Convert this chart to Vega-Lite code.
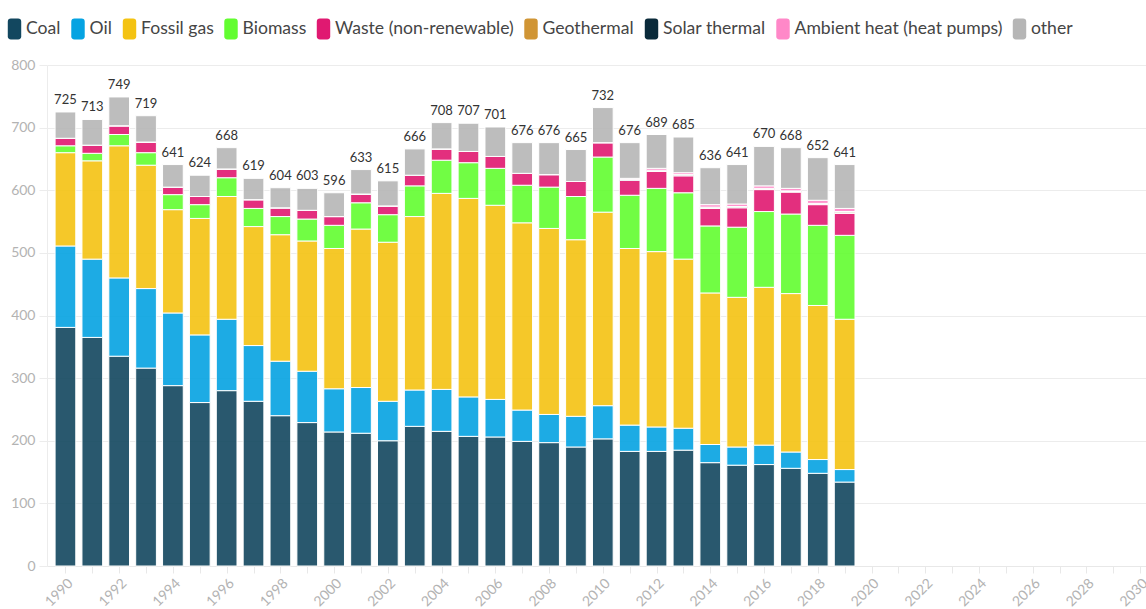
{
  "$schema": "https://vega.github.io/schema/vega-lite/v6.json",
  "autosize": {"type": "none"},
  "padding": {"left": 47, "top": 65, "right": 0, "bottom": 43},
  "width": 1099,
  "height": 501,
  "background": "white",
  "config": {
    "font": "Lato",
    "view": {"stroke": null}
  },
  "data": {
    "values": [
      {"Year": 1990, "Coal": 381, "Oil": 130, "Fossil gas": 149, "Biomass": 11, "Waste (non-renewable)": 12, "Geothermal": 0, "Solar thermal": 0, "Ambient heat (heat pumps)": 0, "other": 42},
      {"Year": 1991, "Coal": 365, "Oil": 125, "Fossil gas": 157, "Biomass": 12, "Waste (non-renewable)": 13, "Geothermal": 0, "Solar thermal": 0, "Ambient heat (heat pumps)": 0, "other": 41},
      {"Year": 1992, "Coal": 335, "Oil": 125, "Fossil gas": 211, "Biomass": 18, "Waste (non-renewable)": 14, "Geothermal": 0, "Solar thermal": 0, "Ambient heat (heat pumps)": 0, "other": 46},
      {"Year": 1993, "Coal": 316, "Oil": 127, "Fossil gas": 197, "Biomass": 20, "Waste (non-renewable)": 17, "Geothermal": 0, "Solar thermal": 0, "Ambient heat (heat pumps)": 0, "other": 42},
      {"Year": 1994, "Coal": 288, "Oil": 116, "Fossil gas": 165, "Biomass": 24, "Waste (non-renewable)": 12, "Geothermal": 0, "Solar thermal": 0, "Ambient heat (heat pumps)": 0, "other": 36},
      {"Year": 1995, "Coal": 261, "Oil": 108, "Fossil gas": 186, "Biomass": 22, "Waste (non-renewable)": 13, "Geothermal": 0, "Solar thermal": 0, "Ambient heat (heat pumps)": 0, "other": 34},
      {"Year": 1996, "Coal": 280, "Oil": 114, "Fossil gas": 196, "Biomass": 30, "Waste (non-renewable)": 14, "Geothermal": 0, "Solar thermal": 0, "Ambient heat (heat pumps)": 0, "other": 34},
      {"Year": 1997, "Coal": 263, "Oil": 89, "Fossil gas": 190, "Biomass": 29, "Waste (non-renewable)": 14, "Geothermal": 0, "Solar thermal": 0, "Ambient heat (heat pumps)": 0, "other": 34},
      {"Year": 1998, "Coal": 240, "Oil": 87, "Fossil gas": 202, "Biomass": 29, "Waste (non-renewable)": 14, "Geothermal": 0, "Solar thermal": 0, "Ambient heat (heat pumps)": 0, "other": 32},
      {"Year": 1999, "Coal": 229, "Oil": 82, "Fossil gas": 208, "Biomass": 35, "Waste (non-renewable)": 14, "Geothermal": 0, "Solar thermal": 0, "Ambient heat (heat pumps)": 0, "other": 35},
      {"Year": 2000, "Coal": 214, "Oil": 69, "Fossil gas": 224, "Biomass": 37, "Waste (non-renewable)": 14, "Geothermal": 0, "Solar thermal": 0, "Ambient heat (heat pumps)": 0, "other": 38},
      {"Year": 2001, "Coal": 212, "Oil": 73, "Fossil gas": 253, "Biomass": 42, "Waste (non-renewable)": 14, "Geothermal": 0, "Solar thermal": 0, "Ambient heat (heat pumps)": 0, "other": 39},
      {"Year": 2002, "Coal": 200, "Oil": 63, "Fossil gas": 254, "Biomass": 44, "Waste (non-renewable)": 14, "Geothermal": 0, "Solar thermal": 0, "Ambient heat (heat pumps)": 0, "other": 40},
      {"Year": 2003, "Coal": 223, "Oil": 58, "Fossil gas": 277, "Biomass": 49, "Waste (non-renewable)": 17, "Geothermal": 0, "Solar thermal": 0, "Ambient heat (heat pumps)": 0, "other": 42},
      {"Year": 2004, "Coal": 215, "Oil": 67, "Fossil gas": 313, "Biomass": 53, "Waste (non-renewable)": 18, "Geothermal": 0, "Solar thermal": 0, "Ambient heat (heat pumps)": 0, "other": 42},
      {"Year": 2005, "Coal": 207, "Oil": 63, "Fossil gas": 317, "Biomass": 57, "Waste (non-renewable)": 18, "Geothermal": 0, "Solar thermal": 0, "Ambient heat (heat pumps)": 0, "other": 45},
      {"Year": 2006, "Coal": 206, "Oil": 60, "Fossil gas": 310, "Biomass": 59, "Waste (non-renewable)": 19, "Geothermal": 0, "Solar thermal": 0, "Ambient heat (heat pumps)": 0, "other": 47},
      {"Year": 2007, "Coal": 199, "Oil": 50, "Fossil gas": 299, "Biomass": 60, "Waste (non-renewable)": 19, "Geothermal": 0, "Solar thermal": 0, "Ambient heat (heat pumps)": 0, "other": 49},
      {"Year": 2008, "Coal": 197, "Oil": 45, "Fossil gas": 297, "Biomass": 66, "Waste (non-renewable)": 20, "Geothermal": 0, "Solar thermal": 0, "Ambient heat (heat pumps)": 0, "other": 51},
      {"Year": 2009, "Coal": 190, "Oil": 49, "Fossil gas": 282, "Biomass": 69, "Waste (non-renewable)": 24, "Geothermal": 0, "Solar thermal": 0, "Ambient heat (heat pumps)": 0, "other": 51},
      {"Year": 2010, "Coal": 203, "Oil": 53, "Fossil gas": 309, "Biomass": 88, "Waste (non-renewable)": 23, "Geothermal": 0, "Solar thermal": 0, "Ambient heat (heat pumps)": 0, "other": 56},
      {"Year": 2011, "Coal": 183, "Oil": 42, "Fossil gas": 282, "Biomass": 85, "Waste (non-renewable)": 24, "Geothermal": 0, "Solar thermal": 1, "Ambient heat (heat pumps)": 2, "other": 57},
      {"Year": 2012, "Coal": 183, "Oil": 39, "Fossil gas": 280, "Biomass": 101, "Waste (non-renewable)": 27, "Geothermal": 1, "Solar thermal": 1, "Ambient heat (heat pumps)": 3, "other": 54},
      {"Year": 2013, "Coal": 185, "Oil": 35, "Fossil gas": 270, "Biomass": 106, "Waste (non-renewable)": 27, "Geothermal": 1, "Solar thermal": 1, "Ambient heat (heat pumps)": 3, "other": 57},
      {"Year": 2014, "Coal": 165, "Oil": 29, "Fossil gas": 242, "Biomass": 107, "Waste (non-renewable)": 28, "Geothermal": 1, "Solar thermal": 1, "Ambient heat (heat pumps)": 4, "other": 59},
      {"Year": 2015, "Coal": 161, "Oil": 29, "Fossil gas": 239, "Biomass": 112, "Waste (non-renewable)": 31, "Geothermal": 1, "Solar thermal": 1, "Ambient heat (heat pumps)": 4, "other": 63},
      {"Year": 2016, "Coal": 162, "Oil": 31, "Fossil gas": 252, "Biomass": 121, "Waste (non-renewable)": 35, "Geothermal": 1, "Solar thermal": 1, "Ambient heat (heat pumps)": 4, "other": 63},
      {"Year": 2017, "Coal": 156, "Oil": 26, "Fossil gas": 253, "Biomass": 127, "Waste (non-renewable)": 35, "Geothermal": 1, "Solar thermal": 1, "Ambient heat (heat pumps)": 4, "other": 65},
      {"Year": 2018, "Coal": 148, "Oil": 22, "Fossil gas": 246, "Biomass": 128, "Waste (non-renewable)": 33, "Geothermal": 1, "Solar thermal": 1, "Ambient heat (heat pumps)": 5, "other": 68},
      {"Year": 2019, "Coal": 134, "Oil": 20, "Fossil gas": 240, "Biomass": 134, "Waste (non-renewable)": 35, "Geothermal": 2, "Solar thermal": 1, "Ambient heat (heat pumps)": 5, "other": 70}
    ]
  },
  "transform": [
    {"fold": ["Coal", "Oil", "Fossil gas", "Biomass", "Waste (non-renewable)", "Geothermal", "Solar thermal", "Ambient heat (heat pumps)", "other"], "as": ["source", "value"]},
    {"calculate": "indexof(['Coal','Oil','Fossil gas','Biomass','Waste (non-renewable)','Geothermal','Solar thermal','Ambient heat (heat pumps)','other'], datum.source)", "as": "stackOrder"}
  ],
  "encoding": {
    "x": {
      "field": "Year",
      "type": "quantitative",
      "scale": {"domain": [1989.5, 2030.03], "nice": false, "zero": false},
      "axis": {
        "title": null,
        "values": [1990,1991,1992,1993,1994,1995,1996,1997,1998,1999,2000,2001,2002,2003,2004,2005,2006,2007,2008,2009,2010,2011,2012,2013,2014,2015,2016,2017,2018,2019,2020,2021,2022,2023,2024,2025,2026,2027,2028,2029,2030],
        "labelExpr": "datum.value % 2 === 0 ? '' + datum.value : ''",
        "labelAngle": -45,
        "labelFontSize": 14,
        "labelColor": "#b3b3b3",
        "labelPadding": 3,
        "tickSize": 7,
        "tickColor": "#e8e8e8",
        "domainColor": "#e8e8e8",
        "grid": false,
        "labelOverlap": false,
        "labelFlush": false
      }
    }
  },
  "layer": [
    {
      "mark": {"type": "bar", "width": 20.7, "stroke": "white", "strokeWidth": 1, "opacity": 0.9},
      "encoding": {
        "y": {
          "field": "value",
          "type": "quantitative",
          "stack": "zero",
          "scale": {"domain": [0, 800], "nice": false},
          "axis": {
            "title": null,
            "values": [0,100,200,300,400,500,600,700,800],
            "labelFontSize": 14,
            "labelColor": "#b3b3b3",
            "labelPadding": 4,
            "tickSize": 8,
            "tickColor": "#ececec",
            "gridColor": "#ececec",
            "domainColor": "#ececec"
          }
        },
        "order": {"field": "stackOrder", "type": "quantitative"},
        "color": {
          "field": "source",
          "type": "nominal",
          "scale": {
            "domain": ["Coal", "Oil", "Fossil gas", "Biomass", "Waste (non-renewable)", "Geothermal", "Solar thermal", "Ambient heat (heat pumps)", "other"],
            "range": ["#12475f", "#05a3e2", "#f4c312", "#62fd30", "#e01971", "#d09535", "#0a2a3a", "#ff88c8", "#b6b6b6"]
          },
          "legend": {
            "title": null,
            "orient": "none",
            "direction": "horizontal",
            "legendX": -43,
            "legendY": -46.5,
            "symbolType": "M-0.64,-0.7Q-0.64,-1,-0.34,-1L0.34,-1Q0.64,-1,0.64,-0.7L0.64,0.7Q0.64,1,0.34,1L-0.34,1Q-0.64,1,-0.64,0.7Z",
            "symbolSize": 441,
            "symbolStrokeWidth": 0,
            "symbolOpacity": 1,
            "labelFontSize": 17.6,
            "labelColor": "#454545",
            "labelOffset": 1,
            "columnPadding": 6.5,
            "padding": 0,
            "offset": 0,
            "labelLimit": 400
          }
        }
      }
    },
    {
      "mark": {"type": "text", "baseline": "bottom", "dy": -5, "fontSize": 13, "color": "#333333"},
      "encoding": {
        "y": {"aggregate": "sum", "field": "value", "type": "quantitative"},
        "text": {"aggregate": "sum", "field": "value", "type": "quantitative"}
      }
    }
  ]
}
